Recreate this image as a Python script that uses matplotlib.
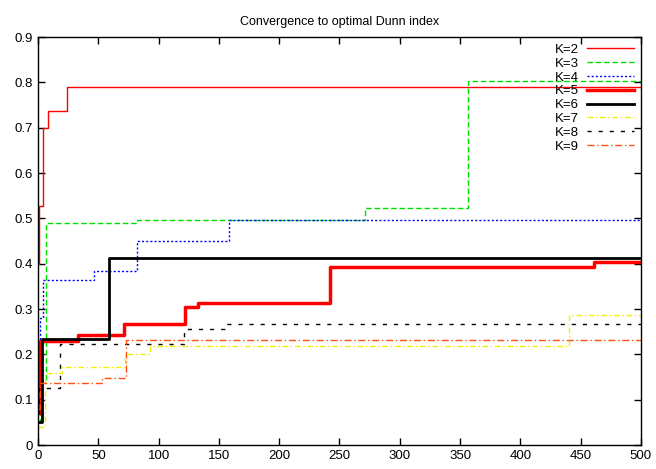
import matplotlib
matplotlib.use("Agg")
import matplotlib.pyplot as plt

plt.rcParams['font.family'] = ['Liberation Sans', 'DejaVu Sans']

# step data (generation, best Dunn index so far)
k2_x = [0, 1, 4, 8, 24, 500]
k2_y = [0.40, 0.527, 0.699, 0.737, 0.789, 0.789]
k3_x = [0, 2, 7, 82, 271, 357, 500]
k3_y = [0.05, 0.143, 0.489, 0.497, 0.523, 0.804, 0.804]
k4_x = [0, 2, 4, 46, 82, 158, 500]
k4_y = [0.10, 0.28, 0.365, 0.385, 0.451, 0.497, 0.497]
k5_x = [0, 2, 33, 71, 122, 133, 242, 461, 500]
k5_y = [0.07, 0.229, 0.242, 0.268, 0.305, 0.314, 0.393, 0.404, 0.404]
k6_x = [0, 3, 59, 500]
k6_y = [0.05, 0.234, 0.412, 0.412]
k7_x = [0, 6, 20, 72, 93, 440, 500]
k7_y = [0.04, 0.16, 0.172, 0.202, 0.218, 0.287, 0.287]
k8_x = [0, 1, 18, 121, 156, 500]
k8_y = [0.07, 0.127, 0.222, 0.255, 0.266, 0.266]
k9_x = [0, 2, 53, 73, 500]
k9_y = [0.08, 0.136, 0.149, 0.232, 0.232]

x_ticks = [0, 50, 100, 150, 200, 250, 300, 350, 400, 450, 500]
y_ticks = [0, 0.1, 0.2, 0.3, 0.4, 0.5, 0.6, 0.7, 0.8, 0.9]
y_labels = ['0', '0.1', '0.2', '0.3', '0.4', '0.5', '0.6', '0.7', '0.8', '0.9']

fig = plt.figure(figsize=(6.56, 4.69), dpi=100)
ax = fig.add_axes([0.058, 0.051, 0.919, 0.870])

ax.step(k2_x, k2_y, where='post', color='#ff0000', lw=1.0, label='K=2')
ax.step(k3_x, k3_y, where='post', color='#00e000', lw=1.0, ls=(0, (4, 2)), label='K=3')
ax.step(k4_x, k4_y, where='post', color='#0000ff', lw=1.0, ls=(0, (1.5, 1.5)), label='K=4')
ax.step(k5_x, k5_y, where='post', color='#ff0000', lw=2.5, label='K=5')
ax.step(k6_x, k6_y, where='post', color='#000000', lw=2.0, label='K=6')
ax.step(k7_x, k7_y, where='post', color='#f0f000', lw=1.0, ls=(0, (4, 2, 1, 2)), label='K=7')
ax.step(k8_x, k8_y, where='post', color='#000000', lw=1.0, ls=(0, (3, 5)), label='K=8')
ax.step(k9_x, k9_y, where='post', color='#ff5010', lw=1.0, ls=(0, (5, 2, 1, 2)), label='K=9')

ax.set_xlim(0, 500)
ax.set_ylim(0, 0.9)
ax.set_xticks(x_ticks)
ax.set_yticks(y_ticks)
ax.set_yticklabels(y_labels)
ax.tick_params(direction='in', top=True, right=True, labelsize=9.5, length=5, width=1)
for s in ax.spines.values():
    s.set_linewidth(1.0)

ax.set_title('Convergence to optimal Dunn index', fontsize=9, pad=9)
ax.legend(loc='upper right', frameon=False, markerfirst=False, fontsize=9.5,
          handlelength=3.6, labelspacing=0.12, borderaxespad=0.1, handletextpad=0.6)

fig.savefig('out.png', dpi=100)
